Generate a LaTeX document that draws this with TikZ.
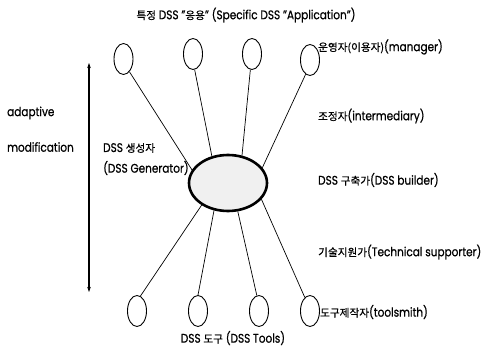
\documentclass[tikz,border=0pt]{standalone}
\usepackage{fontspec}
\setmainfont{Poppins}[FakeStretch=0.84,FakeBold=0.6]
\newfontfamily\kr{Noto Sans CJK KR}[Scale=0.85,FakeBold=0.6]
\usetikzlibrary{shapes.geometric,arrows.meta}
\begin{document}
\begin{tikzpicture}[x=1pt,y=-1pt,
  small/.style={draw,ellipse,line width=0.9pt,minimum width=19pt,minimum height=31pt,inner sep=0pt},
  hub/.style={draw,ellipse,line width=2.6pt,fill=black!6,minimum width=78pt,minimum height=56pt,inner sep=0pt},
  link/.style={line width=0.7pt},
  lbl/.style={font=\fontsize{12.5}{14}\selectfont,inner sep=0pt},
  lbll/.style={lbl,anchor=west}]
\useasboundingbox (0,0) rectangle (485,355);
% hub
\node[hub] (hub) at (228,183) {};
% top ellipses
\node[small] (t1) at (123.5,59) {};
\node[small] (t2) at (193,54) {};
\node[small] (t3) at (252,54) {};
\node[small] (t4) at (310,60) {};
% bottom ellipses
\node[small] (b1) at (137,311) {};
\node[small] (b2) at (198,311) {};
\node[small] (b3) at (259,311) {};
\node[small] (b4) at (310,311) {};
% links
\draw[link] (t1.295) -- (hub.160);
\draw[link] (t2.276) -- (hub.121);
\draw[link] (t3.264) -- (hub.63);
\draw[link] (t4.253) -- (hub.24);
\draw[link] (b1.77) -- (hub.220);
\draw[link] (b2.90) -- (hub.243);
\draw[link] (b3.98) -- (hub.289);
\draw[link] (b4.111) -- (hub.334);
% adaptive modification arrow
\coordinate (atop) at (89,63);
\coordinate (abot) at (89,292);
\draw[line width=1.6pt,{Stealth[length=5pt,width=3.5pt]}-{Stealth[length=5pt,width=3.5pt]}] (atop) -- (abot);
% labels
\node[lbl] (title) at (246,15) {{\kr 특정} DSS "{\kr 응용}" (Specific DSS "Application")};
\node[lbll] (mgr) at (318,47) {{\kr 운영자(이용자)}(manager)};
\node[lbll] (inter) at (318,116) {{\kr 조정자}(intermediary)};
\node[lbll] (builder) at (318,180) {DSS {\kr 구축가}(DSS builder)};
\node[lbll] (tech) at (318,252) {{\kr 기술지원가}(Technical supporter)};
\node[lbll] (smith) at (320,312) {{\kr 도구제작자}(toolsmith)};
\node[lbl] (tools) at (233,338) {DSS {\kr 도구} (DSS Tools)};
\node[lbll] (gen1) at (103,148) {DSS {\kr 생성자}};
\node[lbll] (gen2) at (103,168) {(DSS Generator)};
\node[lbll] (ad1) at (7,113) {adaptive};
\node[lbll] (ad2) at (7,147) {modification};
\end{tikzpicture}
\end{document}
